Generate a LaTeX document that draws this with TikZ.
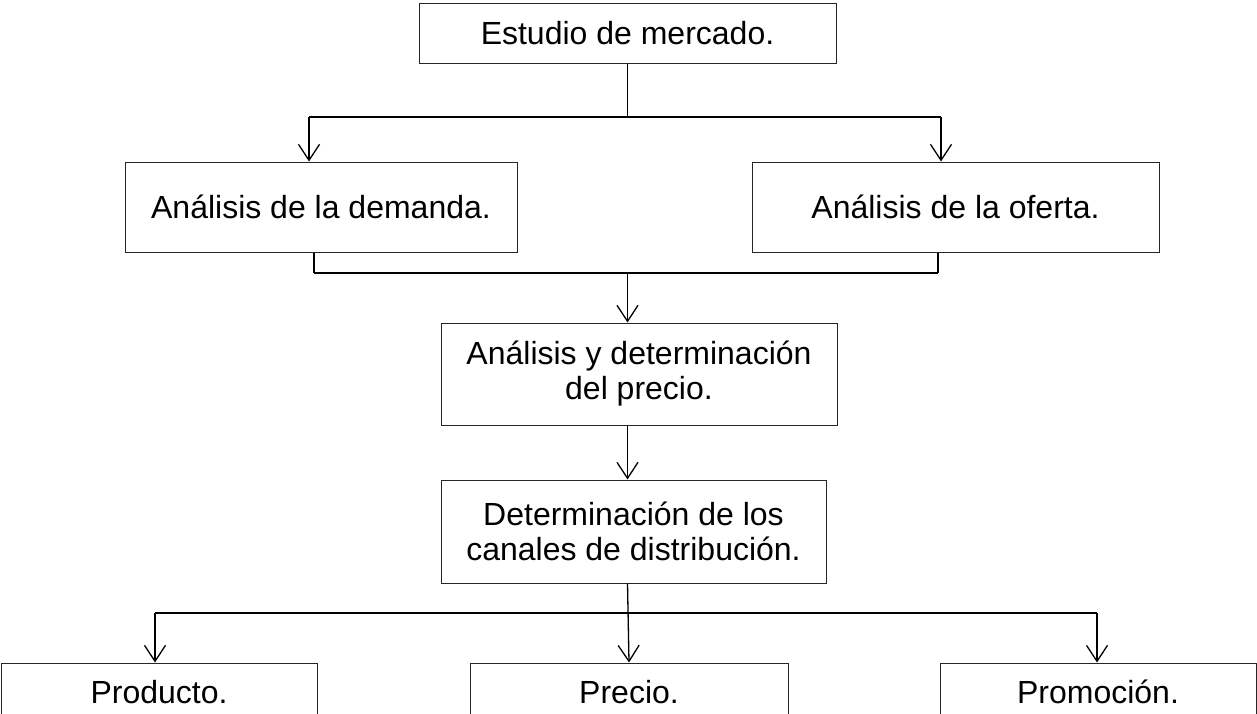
\documentclass[tikz,border=0pt]{standalone}
\usepackage{fontspec}
\setmainfont{Liberation Sans}
\usetikzlibrary{arrows.meta}
\tikzset{
  caja/.style={draw=black!85,line width=1pt,align=center,inner sep=0pt,
    font=\fontsize{32}{35}\selectfont},
  flecha/.style={-{Straight Barb[length=16pt,width=21pt,line width=1.3pt]},line width=1.3pt},
  barra/.style={line width=2.2pt}
}
\begin{document}
\begin{tikzpicture}[x=1pt,y=-1pt]
   \useasboundingbox (0,0) rectangle (1257,713);
   % cajas
   \node[caja,minimum width=417pt,minimum height=60pt] (mercado) at (627.5,33) {Estudio de mercado.};
   \node[caja,minimum width=392pt,minimum height=90pt] (demanda) at (321,207) {An\'alisis de la demanda.};
   \node[caja,minimum width=407pt,minimum height=90pt] (oferta) at (955.5,207) {An\'alisis de la oferta.};
   \node[caja,minimum width=396pt,minimum height=102pt] (analisis) at (639,374)
      {An\'alisis y determinaci\'on\\del precio.};
   \node[caja,minimum width=385pt,minimum height=103pt] (canales) at (633.5,531.5)
      {Determinaci\'on de los\\canales de distribuci\'on.};
   \node[caja,minimum width=316pt,minimum height=58pt] (producto) at (159,692) {Producto.};
   \node[caja,minimum width=318pt,minimum height=58pt] (precio) at (629,692) {Precio.};
   \node[caja,minimum width=316pt,minimum height=58pt] (promocion) at (1098,692) {Promoci\'on.};
   % uniones
   \coordinate (a1) at (627.5,117);
   \coordinate (a2) at (309,117);
   \coordinate (a3) at (941,117);
   \coordinate (b1) at (314,273);
   \coordinate (b2) at (938,273);
   \coordinate (b3) at (627.5,273);
   \coordinate (c1) at (155,613);
   \coordinate (c2) at (1097,613);
   % conectores
   \draw[line width=1.3pt] (mercado.south) -- (a1);
   \draw[barra] (a2) -- (a3);
   \draw[flecha] (a2) -- (a2 |- demanda.north);
   \draw[flecha] (a3) -- (a3 |- oferta.north);
   \draw[line width=1.3pt] (b1 |- demanda.south) -- (b1);
   \draw[line width=1.3pt] (b2 |- oferta.south) -- (b2);
   \draw[barra] (b1) -- (b2);
   \draw[flecha] (b3) -- (b3 |- analisis.north);
   \draw[flecha] (b3 |- analisis.south) -- (b3 |- canales.north);
   \draw[barra] (c1) -- (c2);
   \draw[flecha] (c1) -- (c1 |- producto.north);
   \draw[flecha] (c2) -- (c2 |- promocion.north);
   \draw[flecha] (b3 |- canales.south) -- (precio.north);
\end{tikzpicture}
\end{document}
